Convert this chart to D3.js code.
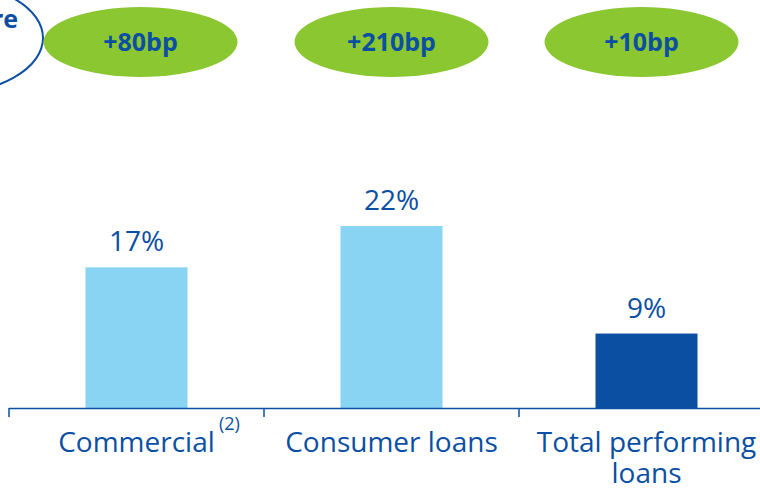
<!DOCTYPE html>
<html>
<head>
<meta charset="utf-8">
<script src="https://cdn.jsdelivr.net/npm/d3@7"></script>
<style>
  body { margin: 0; background: #fff; }
  svg { display: block; font-family: "Open Sans", "Noto Sans", sans-serif; }
</style>
</head>
<body>
<div id="chart"></div>
<script>
// chart data
var categories = ["Commercial", "Consumer loans", "Total performing loans"];
var values = [17, 22, 9];
var valueLabels = ["17%", "22%", "9%"];
var changeLabels = ["+80bp", "+210bp", "+10bp"];

var blue = "#0b4fa3", lightBlue = "#89d3f3", green = "#8ac731";

var width = 760, height = 488;
var baseY = 408;

var svg = d3.select("#chart")
  .append("svg")
  .attr("width", width)
  .attr("height", height);

// bands, one per category
var x = d3.scaleBand()
  .domain(categories)
  .range([9, 774])
  .padding(0);

var y = d3.scaleLinear()
  .domain([0, 22])
  .range([baseY, 226]);

var barW = x.bandwidth() * 0.4;

// partial ellipse at the top left (cut by the page edge, as in the source)
svg.append("ellipse")
  .attr("cx", -57).attr("cy", 38)
  .attr("rx", 100).attr("ry", 56)
  .attr("fill", "none")
  .attr("stroke", blue)
  .attr("stroke-width", 2);
svg.append("text")
  .attr("x", 18).attr("y", 28)
  .attr("text-anchor", "end")
  .attr("font-size", 25)
  .attr("font-weight", "bold")
  .attr("fill", blue)
  .text("re");

// green change ellipses
var badges = svg.selectAll(".badge")
  .data(categories)
  .enter().append("g")
  .attr("class", "badge")
  .attr("transform", function (d, i) { return "translate(" + (x(d) + x.bandwidth() / 2 + [4, 0, -5][i]) + ",42)"; });
badges.append("ellipse")
  .attr("rx", 97).attr("ry", 35)
  .attr("fill", green);
badges.append("text")
  .attr("y", 9)
  .attr("text-anchor", "middle")
  .attr("font-size", 25)
  .attr("font-weight", "bold")
  .attr("fill", blue)
  .text(function (d, i) { return changeLabels[i]; });

// bars
svg.selectAll(".bar")
  .data(categories)
  .enter().append("rect")
  .attr("class", "bar")
  .attr("x", function (d) { return x(d) + (x.bandwidth() - barW) / 2; })
  .attr("y", function (d, i) { return y(values[i]); })
  .attr("width", barW)
  .attr("height", function (d, i) { return baseY - y(values[i]); })
  .attr("fill", function (d, i) { return i === 2 ? blue : lightBlue; });

// value labels
svg.selectAll(".val")
  .data(categories)
  .enter().append("text")
  .attr("class", "val")
  .attr("x", function (d) { return x(d) + x.bandwidth() / 2; })
  .attr("y", function (d, i) { return y(values[i]) - 16; })
  .attr("text-anchor", "middle")
  .attr("font-size", 28)
  .attr("fill", blue)
  .text(function (d, i) { return valueLabels[i]; });

// axis line and ticks at band edges
svg.append("line")
  .attr("x1", x.range()[0]).attr("x2", width)
  .attr("y1", baseY + 0.5).attr("y2", baseY + 0.5)
  .attr("stroke", blue).attr("stroke-width", 1.5);
svg.selectAll(".tick")
  .data(categories)
  .enter().append("line")
  .attr("class", "tick")
  .attr("x1", function (d) { return x(d); })
  .attr("x2", function (d) { return x(d); })
  .attr("y1", baseY).attr("y2", baseY + 9)
  .attr("stroke", blue).attr("stroke-width", 1.5);

// category labels
var catLines = [["Commercial"], ["Consumer loans"], ["Total performing", "loans"]];
var cat = svg.selectAll(".cat")
  .data(categories)
  .enter().append("text")
  .attr("class", "cat")
  .attr("text-anchor", "middle")
  .attr("font-size", 28)
  .attr("fill", blue);
cat.selectAll("tspan")
  .data(function (d, i) { return catLines[i].map(function (t) { return { t: t, c: d }; }); })
  .enter().append("tspan")
  .attr("x", function (d) { return x(d.c) + x.bandwidth() / 2; })
  .attr("y", function (d, j) { return 452 + j * 31; })
  .text(function (d) { return d.t; });

// footnote marker
svg.append("text")
  .attr("x", 219).attr("y", 430)
  .attr("font-size", 18)
  .attr("fill", blue)
  .text("(2)");
</script>
</body>
</html>
